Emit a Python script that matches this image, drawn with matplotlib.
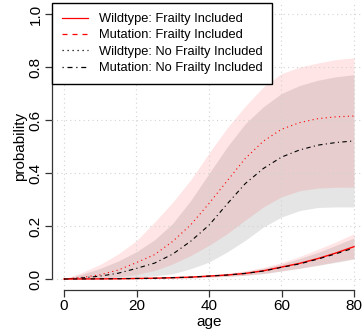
import numpy as np
import matplotlib
matplotlib.use("Agg")
import matplotlib.pyplot as plt
from matplotlib.lines import Line2D

plt.rcParams['font.family'] = ['Liberation Sans', 'DejaVu Sans']

# -------------------------------
# DATA
# -------------------------------
age = [0, 5, 10, 15, 20, 25, 30, 35, 40, 45, 50, 55, 60, 65, 70, 75, 80]

# no frailty included
wt_nf = [0, 0.006, 0.016, 0.034, 0.062, 0.092, 0.142, 0.205, 0.285, 0.37,
         0.455, 0.52, 0.565, 0.59, 0.605, 0.612, 0.615]
mut_nf = [0, 0.004, 0.011, 0.022, 0.04, 0.06, 0.094, 0.143, 0.203, 0.283,
          0.36, 0.417, 0.46, 0.487, 0.505, 0.515, 0.521]
wt_nf_hi = [0, 0.025, 0.055, 0.095, 0.145, 0.215, 0.29, 0.375, 0.475, 0.57,
            0.652, 0.725, 0.775, 0.8, 0.815, 0.828, 0.835]
wt_nf_lo = [0, 0.001, 0.003, 0.008, 0.017, 0.032, 0.057, 0.089, 0.127, 0.171,
            0.222, 0.272, 0.31, 0.333, 0.343, 0.346, 0.347]
mut_nf_hi = [0, 0.018, 0.04, 0.068, 0.103, 0.148, 0.21, 0.297, 0.398, 0.498,
             0.586, 0.65, 0.70, 0.73, 0.75, 0.763, 0.771]
mut_nf_lo = [0, 0.0005, 0.002, 0.004, 0.007, 0.012, 0.02, 0.039, 0.064, 0.102,
             0.146, 0.196, 0.234, 0.258, 0.27, 0.272, 0.272]

# frailty included
wt_f = [0, 0.0002, 0.0005, 0.001, 0.002, 0.003, 0.005, 0.007, 0.011, 0.015,
        0.021, 0.031, 0.045, 0.059, 0.077, 0.098, 0.122]
mut_f = [0, 0.0002, 0.0005, 0.001, 0.002, 0.003, 0.005, 0.007, 0.011, 0.015,
         0.021, 0.030, 0.044, 0.057, 0.075, 0.095, 0.117]
wt_f_hi = [0, 0.0004, 0.001, 0.002, 0.003, 0.005, 0.008, 0.011, 0.016, 0.022,
           0.031, 0.044, 0.062, 0.085, 0.112, 0.14, 0.171]
wt_f_lo = [0, 0.0001, 0.0002, 0.0005, 0.001, 0.0015, 0.002, 0.004, 0.007, 0.01,
           0.014, 0.021, 0.031, 0.041, 0.053, 0.065, 0.078]
mut_f_hi = [0, 0.0004, 0.001, 0.002, 0.003, 0.004, 0.007, 0.01, 0.015, 0.02,
            0.028, 0.04, 0.056, 0.077, 0.1, 0.127, 0.155]
mut_f_lo = [0, 0.0001, 0.0002, 0.0005, 0.001, 0.0015, 0.002, 0.004, 0.007, 0.01,
            0.014, 0.02, 0.03, 0.04, 0.051, 0.063, 0.075]

labels = ["Wildtype: Frailty Included", "Mutation: Frailty Included",
          "Wildtype: No Frailty Included", "Mutation: No Frailty Included"]

# R style line types
DOTTED = (0, (1, 3))
DASHED = (0, (4, 4))
DOTDASH = (0, (1, 3, 4, 3))

# -------------------------------
# PLOT
# -------------------------------
fig = plt.figure(figsize=(3.62, 3.35), dpi=100)
ax = fig.add_axes([52.4 / 362, (335 - 289.6) / 335, 313.2 / 362, 286.2 / 335])

ax.fill_between(age, mut_nf_lo, mut_nf_hi, color='#e5e5e5', lw=0, zorder=1)
ax.fill_between(age, mut_f_lo, mut_f_hi, color='#e5e5e5', lw=0, zorder=1)
ax.fill_between(age, wt_nf_lo, wt_nf_hi, color='red', alpha=0.1, lw=0, zorder=1.1)
ax.fill_between(age, wt_f_lo, wt_f_hi, color='red', alpha=0.1, lw=0, zorder=1.1)

ax.plot(age, wt_nf, color='red', lw=0.8, ls=DOTTED, zorder=3)
ax.plot(age, mut_nf, color='black', lw=0.8, ls=DOTDASH, zorder=3)
ax.plot(age, wt_f, color='red', lw=1.0, ls='-', zorder=3)
ax.plot(age, mut_f, color='black', lw=0.8, ls=DASHED, zorder=3)

ax.set_xlim(-3.2, 83.2)
ax.set_ylim(-0.04, 1.04)
ax.set_xticks([0, 20, 40, 60, 80])
ax.set_yticks([0, 0.2, 0.4, 0.6, 0.8, 1.0])
ax.set_yticklabels(["0.0", "0.2", "0.4", "0.6", "0.8", "1.0"], rotation=90, va='center')
ax.set_axisbelow(False)
ax.grid(color='lightgray', ls=DOTTED, lw=0.8)

for s in ['top', 'right']:
    ax.spines[s].set_visible(False)
ax.spines['left'].set_bounds(0, 1)
ax.spines['bottom'].set_bounds(0, 80)
for s in ['left', 'bottom']:
    ax.spines[s].set_color('#333333')
    ax.spines[s].set_linewidth(0.9)
ax.tick_params(length=5, width=0.9, color='#333333', labelsize=11, pad=2)

ax.set_xlabel("age", fontsize=11, labelpad=1)
ax.set_ylabel("probability", fontsize=11, labelpad=1)

handles = [Line2D([], [], color='red', lw=0.9, ls='-'),
           Line2D([], [], color='red', lw=0.9, ls=DASHED),
           Line2D([], [], color='black', lw=0.9, ls=DOTTED),
           Line2D([], [], color='black', lw=0.9, ls=DOTDASH)]
leg = ax.legend(handles, labels, loc='upper left', bbox_to_anchor=(0, 1),
                borderaxespad=0, fontsize=9.3, fancybox=False, framealpha=1,
                edgecolor='black', handlelength=2.0, handletextpad=0.85,
                labelspacing=0.33, borderpad=0.75)
leg.get_frame().set_linewidth(1)
leg.set_zorder(5)

fig.savefig("out.png", dpi=100)
